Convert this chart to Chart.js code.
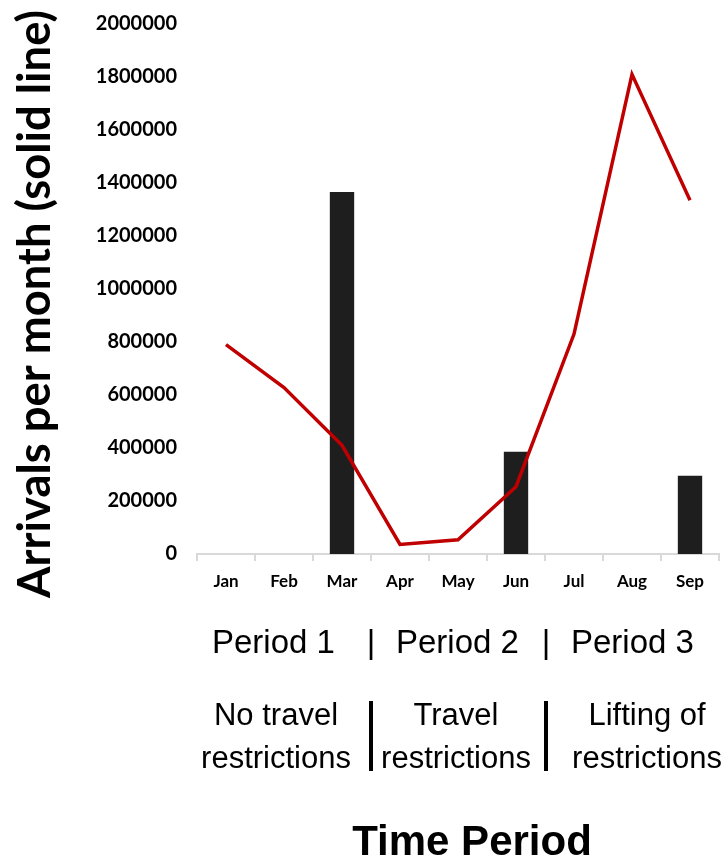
<!DOCTYPE html>
<html>
<head>
<meta charset="utf-8">
<script src="https://cdn.jsdelivr.net/npm/chart.js@4/dist/chart.umd.min.js"></script>
<style>
  html, body { margin: 0; padding: 0; background: #ffffff; }
  #wrap { position: relative; width: 728px; height: 862px; }
</style>
</head>
<body>
<div id="wrap"><canvas id="c" width="728" height="862"></canvas></div>
<script>
// Months on the x axis
const months = ['Jan', 'Feb', 'Mar', 'Apr', 'May', 'Jun', 'Jul', 'Aug', 'Sep'];
// Monthly arrivals (solid line)
const arrivals = [790000, 628000, 410000, 36000, 54000, 254000, 830000, 1810000, 1335000];
// Bar series (shown only at period boundaries)
const barValues = [null, null, 1366000, null, null, 386000, null, null, 295000];
// Y axis range
const yMin = 0, yMax = 2000000, yStep = 200000;

// Period annotation text
const periodLabels = ['Period 1', 'Period 2', 'Period 3'];
const periodDescriptions = [['No travel', 'restrictions'], ['Travel', 'restrictions'], ['Lifting of', 'restrictions']];
const yTitle = 'Arrivals per month (solid line)';
const xTitle = 'Time Period';

const annotations = {
  id: 'annotations',
  afterDraw(chart) {
    const ctx = chart.ctx;
    ctx.save();
    ctx.fillStyle = '#000';

    // rotated y-axis title
    ctx.save();
    ctx.translate(50, 304);
    ctx.rotate(-Math.PI / 2);
    let fs = 40;
    ctx.font = `bold ${fs}px Lato`;
    const w = ctx.measureText(yTitle).width;
    fs = fs * 588 / w;
    ctx.font = `bold ${fs}px Lato`;
    ctx.textAlign = 'center';
    ctx.textBaseline = 'alphabetic';
    ctx.fillText(yTitle, 0, 0);
    ctx.restore();

    // period row
    ctx.font = '33px "Liberation Sans", Arial, sans-serif';
    ctx.textBaseline = 'alphabetic';
    ctx.textAlign = 'left';
    ctx.fillText(periodLabels[0], 212, 653);
    ctx.fillText(periodLabels[1], 396, 653);
    ctx.fillText(periodLabels[2], 571, 653);
    ctx.textAlign = 'center';
    ctx.fillText('|', 371, 653);
    ctx.fillText('|', 546, 653);

    // descriptions
    ctx.font = '31px "Liberation Sans", Arial, sans-serif';
    const centers = [276, 456, 647];
    periodDescriptions.forEach((d, i) => {
      ctx.fillText(d[0], centers[i], 725);
      ctx.fillText(d[1], centers[i], 768);
    });

    // separators between descriptions
    ctx.fillRect(369, 701, 4, 70);
    ctx.fillRect(544, 701, 4, 70);

    // x title
    ctx.font = 'bold 42px "Liberation Sans", Arial, sans-serif';
    ctx.fillText(xTitle, 472, 855);
    ctx.restore();
  }
};

new Chart(document.getElementById('c'), {
  data: {
    labels: months,
    datasets: [
      {
        type: 'line',
        data: arrivals,
        borderColor: '#c00000',
        borderWidth: 3.5,
        pointRadius: 0,
        tension: 0,
        order: 0
      },
      {
        type: 'bar',
        data: barValues,
        backgroundColor: '#1e1e1e',
        categoryPercentage: 1,
        barPercentage: 0.42,
        order: 1
      }
    ]
  },
  options: {
    responsive: false,
    animation: false,
    events: [],
    layout: { padding: { left: 0, right: 9, top: 18, bottom: 0 } },
    plugins: { legend: { display: false }, tooltip: { enabled: false } },
    scales: {
      x: {
        type: 'category',
        offset: true,
        grid: { offset: true, drawOnChartArea: false, drawTicks: true, tickLength: 7, color: '#d9d9d9', lineWidth: 2 },
        border: { display: true, color: '#d9d9d9', width: 2 },
        ticks: { color: '#000', padding: 10, font: { family: 'Lato', weight: 'bold', size: 17 } },
        afterFit(scale) { scale.height = 308; }
      },
      y: {
        min: yMin,
        max: yMax,
        grid: { display: false },
        border: { display: false },
        ticks: {
          stepSize: yStep,
          color: '#000',
          padding: 12,
          font: { family: 'Lato', weight: 'bold', size: 20 },
          callback: v => String(v)
        },
        afterFit(scale) { scale.width = 197; }
      }
    }
  },
  plugins: [annotations]
});
</script>
</body>
</html>
